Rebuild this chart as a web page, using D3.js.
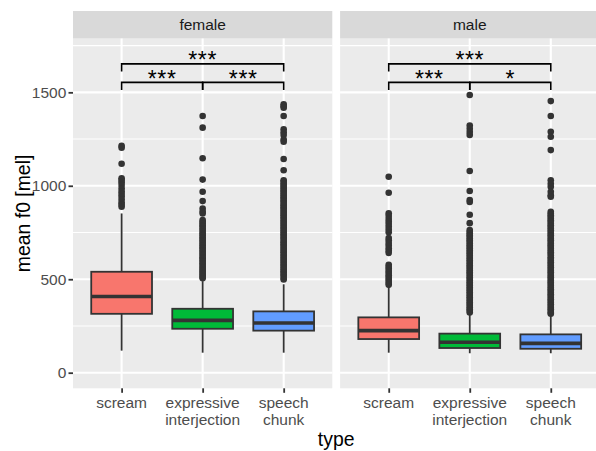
<!DOCTYPE html>
<html>
<head>
<meta charset="utf-8">
<script src="https://cdn.jsdelivr.net/npm/d3@7"></script>
<style>
  html, body { margin: 0; padding: 0; background: #ffffff; }
  svg { display: block; font-family: "Liberation Sans", Arial, Helvetica, sans-serif; }
</style>
</head>
<body>
<svg id="chart" width="596" height="451"></svg>
<script>
// ---------- data ----------
const panels = ["female", "male"];
const categories = ["scream", "expressive interjection", "speech chunk"];
const categoryLabels = [["scream"], ["expressive", "interjection"], ["speech", "chunk"]];
const yTicks = [0, 500, 1000, 1500];
const yMinor = [250, 750, 1250, 1750];
const fills = ["#F8766D", "#00BA38", "#619CFF"];

// [lowerWhisker, q1, median, q3, upperWhisker]
const femaleStats = [
  [118, 315, 408, 540, 852],
  [107, 235, 280, 342, 490],
  [107, 225, 266, 328, 473]
];
const maleStats = [
  [107, 180, 225, 296, 460],
  [104, 132, 163, 209, 310],
  [104, 128, 157, 205, 305]
];

const femaleScreamOut = [1214, 1204, 1118, 1040, 1031, 1019, 1004, 986, 969, 956, 942, 926, 910, 899, 888];
const femaleExprOut = [1373, 1311, 1147, 1033, 968, 918, 878, 862, 852, 817, 807, 799, 789, 782, 771, 763, 753, 743, 736, 725, 717, 707, 699, 689, 682, 671, 664, 654, 647, 636, 629, 618, 612, 601, 594, 584, 577, 567, 560, 550, 544, 534, 528, 518, 512, 505];
const femaleSpeechOut = [1436, 1426, 1418, 1373, 1302, 1286, 1272, 1248, 1236, 1143, 1083, 1030, 1022, 1011, 1004, 993, 986, 975, 968, 957, 950, 939, 932, 921, 914, 903, 896, 885, 878, 867, 860, 849, 842, 831, 824, 813, 806, 795, 788, 777, 770, 759, 752, 741, 734, 723, 716, 705, 698, 687, 680, 669, 662, 651, 644, 633, 626, 615, 608, 597, 590, 579, 572, 561, 554, 543, 536, 525, 518, 507, 499];
const maleScreamOut = [1048, 963, 853, 839, 822, 809, 795, 781, 766, 751, 721, 708, 694, 681, 666, 653, 641, 577, 566, 556, 544, 534, 522, 512, 501, 491, 480, 470];
const maleExprOut = [1486, 1322, 1305, 1288, 1272, 1079, 972, 924, 913, 845, 800, 763, 754, 745, 736, 727, 718, 709, 700, 691, 682, 673, 664, 655, 646, 637, 628, 619, 610, 601, 592, 583, 574, 565, 556, 547, 538, 529, 520, 511, 502, 493, 484, 475, 466, 457, 448, 439, 430, 421, 412, 403, 394, 385, 376, 367, 358, 349, 340, 331, 322];
const maleSpeechOut = [1453, 1373, 1289, 1262, 1191, 1030, 1011, 995, 968, 950, 941, 861, 852, 843, 834, 825, 816, 807, 798, 789, 780, 771, 762, 753, 744, 735, 726, 717, 708, 699, 690, 681, 672, 663, 654, 645, 636, 627, 618, 609, 600, 591, 582, 573, 564, 555, 546, 537, 528, 519, 510, 501, 492, 483, 474, 465, 456, 447, 438, 429, 420, 411, 402, 393, 384, 375, 366, 357, 348, 339, 330, 321, 315];

const femaleOutliers = [femaleScreamOut, femaleExprOut, femaleSpeechOut];
const maleOutliers = [maleScreamOut, maleExprOut, maleSpeechOut];

// brackets: [fromCategoryIndex, toCategoryIndex, yValue, label]
const femaleBrackets = [[0, 1, 1553, "***"], [1, 2, 1553, "***"], [0, 2, 1652, "***"]];
const maleBrackets = [[0, 1, 1553, "***"], [1, 2, 1553, "*"], [0, 2, 1652, "***"]];
const bracketTip = 41;

const panelData = [
  { name: panels[0], stats: femaleStats, outliers: femaleOutliers, brackets: femaleBrackets },
  { name: panels[1], stats: maleStats, outliers: maleOutliers, brackets: maleBrackets }
];

// ---------- layout ----------
const svg = d3.select("#chart");
const panelTop = 38.5, panelBottom = 388.3;
const stripTop = 11;
const panelW = 259.3;
const panelX = [73, 340.1];

const y = d3.scaleLinear().domain([-83.5, 1788]).range([panelBottom, panelTop]);

const tickFont = 15.5;
const titleFont = 19.4;
const starFont = 23;

panelData.forEach((pd, pi) => {
  const x0 = panelX[pi];
  const x = d3.scalePoint().domain(categories).range([x0, x0 + panelW]).padding(0.6);
  const step = x.step();
  const g = svg.append("g");

  // panel background
  g.append("rect").attr("x", x0).attr("y", panelTop).attr("width", panelW)
    .attr("height", panelBottom - panelTop).attr("fill", "#EBEBEB");
  // strip
  g.append("rect").attr("x", x0).attr("y", stripTop).attr("width", panelW)
    .attr("height", panelTop - stripTop).attr("fill", "#D9D9D9");
  g.append("text").attr("x", x0 + panelW / 2).attr("y", (stripTop + panelTop) / 2)
    .attr("dy", "0.36em").attr("text-anchor", "middle")
    .attr("font-size", tickFont).attr("fill", "#1A1A1A").text(pd.name);

  // grid
  g.selectAll(".minor").data(yMinor).join("line")
    .attr("x1", x0).attr("x2", x0 + panelW)
    .attr("y1", d => y(d)).attr("y2", d => y(d))
    .attr("stroke", "#ffffff").attr("stroke-width", 1.1);
  g.selectAll(".major").data(yTicks).join("line")
    .attr("x1", x0).attr("x2", x0 + panelW)
    .attr("y1", d => y(d)).attr("y2", d => y(d))
    .attr("stroke", "#ffffff").attr("stroke-width", 2.1);
  g.selectAll(".vmajor").data(categories).join("line")
    .attr("x1", d => x(d)).attr("x2", d => x(d))
    .attr("y1", panelTop).attr("y2", panelBottom)
    .attr("stroke", "#ffffff").attr("stroke-width", 2.1);

  // boxes
  const bw = 0.75 * step;
  pd.stats.forEach((s, ci) => {
    const cx = x(categories[ci]);
    const [lo, q1, med, q3, hi] = s;
    // outliers
    g.selectAll(null).data(pd.outliers[ci]).join("circle")
      .attr("cx", cx).attr("cy", d => y(d)).attr("r", 3.3)
      .attr("fill", "#333333");
    // whiskers
    g.append("line").attr("x1", cx).attr("x2", cx).attr("y1", y(q3)).attr("y2", y(hi))
      .attr("stroke", "#333333").attr("stroke-width", 1.8);
    g.append("line").attr("x1", cx).attr("x2", cx).attr("y1", y(q1)).attr("y2", y(lo))
      .attr("stroke", "#333333").attr("stroke-width", 1.8);
    g.append("rect").attr("x", cx - bw / 2).attr("y", y(q3)).attr("width", bw)
      .attr("height", y(q1) - y(q3)).attr("fill", fills[ci])
      .attr("stroke", "#333333").attr("stroke-width", 1.8);
    g.append("line").attr("x1", cx - bw / 2).attr("x2", cx + bw / 2)
      .attr("y1", y(med)).attr("y2", y(med))
      .attr("stroke", "#333333").attr("stroke-width", 3.6);
  });

  // brackets
  pd.brackets.forEach(b => {
    const xa = x(categories[b[0]]), xb = x(categories[b[1]]);
    const yl = y(b[2]), yt = y(b[2] - bracketTip);
    g.append("path").attr("d", `M${xa},${yt}V${yl}H${xb}V${yt}`)
      .attr("fill", "none").attr("stroke", "#000000").attr("stroke-width", 1.6);
    g.append("text").attr("x", (xa + xb) / 2).attr("y", yl - 8.4 + 0.55 * starFont)
      .attr("text-anchor", "middle").attr("font-size", starFont).attr("fill", "#000000")
      .attr("letter-spacing", 0.6)
      .text(b[3]);
  });

  // x axis
  const xAxis = d3.axisBottom(x).tickSize(4.5).tickPadding(2).tickFormat(() => "");
  const ax = svg.append("g").attr("transform", `translate(0,${panelBottom})`).call(xAxis);
  ax.select(".domain").remove();
  ax.selectAll(".tick line").attr("stroke", "#333333").attr("stroke-width", 1.8);
  ax.selectAll(".tick text").remove();
  categories.forEach((c, ci) => {
    const t = svg.append("text").attr("text-anchor", "middle")
      .attr("font-size", tickFont).attr("fill", "#4D4D4D");
    categoryLabels[ci].forEach((ln, li) => {
      t.append("tspan").attr("x", x(c)).attr("y", 408.4 + li * 16.4).text(ln);
    });
  });
});

// y axis
const yAxis = d3.axisLeft(y).tickValues(yTicks).tickFormat(d3.format("d")).tickSize(4.5).tickPadding(2.2);
const yg = svg.append("g").attr("transform", `translate(${panelX[0]},0)`).call(yAxis);
yg.select(".domain").remove();
yg.selectAll(".tick line").attr("stroke", "#333333").attr("stroke-width", 1.8);
yg.selectAll(".tick text").attr("font-size", tickFont).attr("fill", "#4D4D4D")
  .attr("font-family", "Liberation Sans, Arial, sans-serif");

// axis titles
svg.append("text").attr("x", (panelX[0] + panelX[1] + panelW) / 2).attr("y", 446)
  .attr("text-anchor", "middle").attr("font-size", titleFont).attr("fill", "#000000").text("type");
svg.append("text").attr("transform", `translate(29.5,${(panelTop + panelBottom) / 2}) rotate(-90)`)
  .attr("text-anchor", "middle").attr("font-size", titleFont).attr("fill", "#000000").text("mean f0 [mel]");
</script>
</body>
</html>
